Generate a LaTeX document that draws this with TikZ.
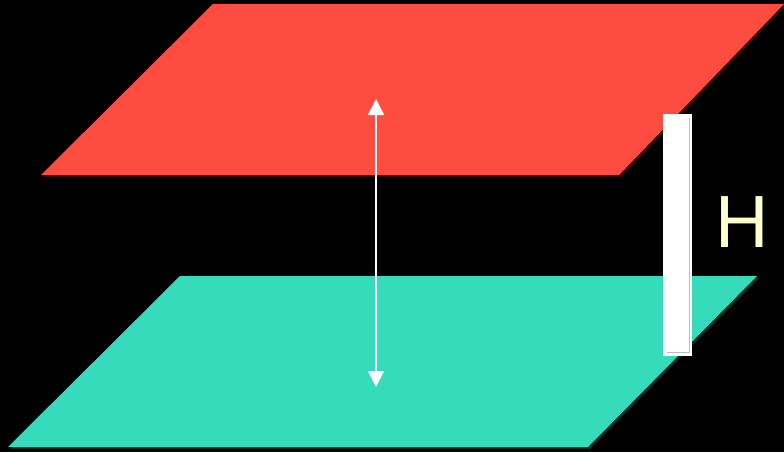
\documentclass[tikz,border=0pt]{standalone}
\usepackage{fontspec}
\setmainfont{Liberation Sans}
\usetikzlibrary{arrows.meta}
\definecolor{topred}{HTML}{FF4C40}
\definecolor{baseteal}{HTML}{36DBBC}
\definecolor{hcream}{HTML}{FFFFCC}

\begin{document}
\begin{tikzpicture}[x=1pt, y=-1pt, >={Triangle[width=16pt, length=16pt]}]
    % Nen den
    \fill[black] (0,0) rectangle (784,452);
    \useasboundingbox (0,0) rectangle (784,452);

    % Mat phang tren (do)
    \fill[black!80!topred] (43,177) -- (215,6) -- (786,6) -- (621,177) -- cycle;
    \fill[topred] (41,175) -- (213,4) -- (784,4) -- (619,175) -- cycle;

    % Mat phang duoi (xanh)
    \fill[black!80!baseteal] (10,449) -- (182,278) -- (759,278) -- (590,449) -- cycle;
    \fill[baseteal] (8,447) -- (180,276) -- (757,276) -- (588,447) -- cycle;

    % Mui ten khoang cach
    \coordinate (A) at (376,99);
    \coordinate (B) at (376,387);
    \draw[<->, white, line width=1.6pt] (A) -- (B);

    % Thanh do chieu cao
    \fill[white] (663,114) rectangle (692,356);
    \draw[black!25, line width=0.8pt] (689,118) -- (689,352) -- (667,352);

    % Nhan H
    \node[text=hcream, font=\fontsize{74}{74}\selectfont, inner sep=0pt] (H) at (742,222) {H};
\end{tikzpicture}
\end{document}
